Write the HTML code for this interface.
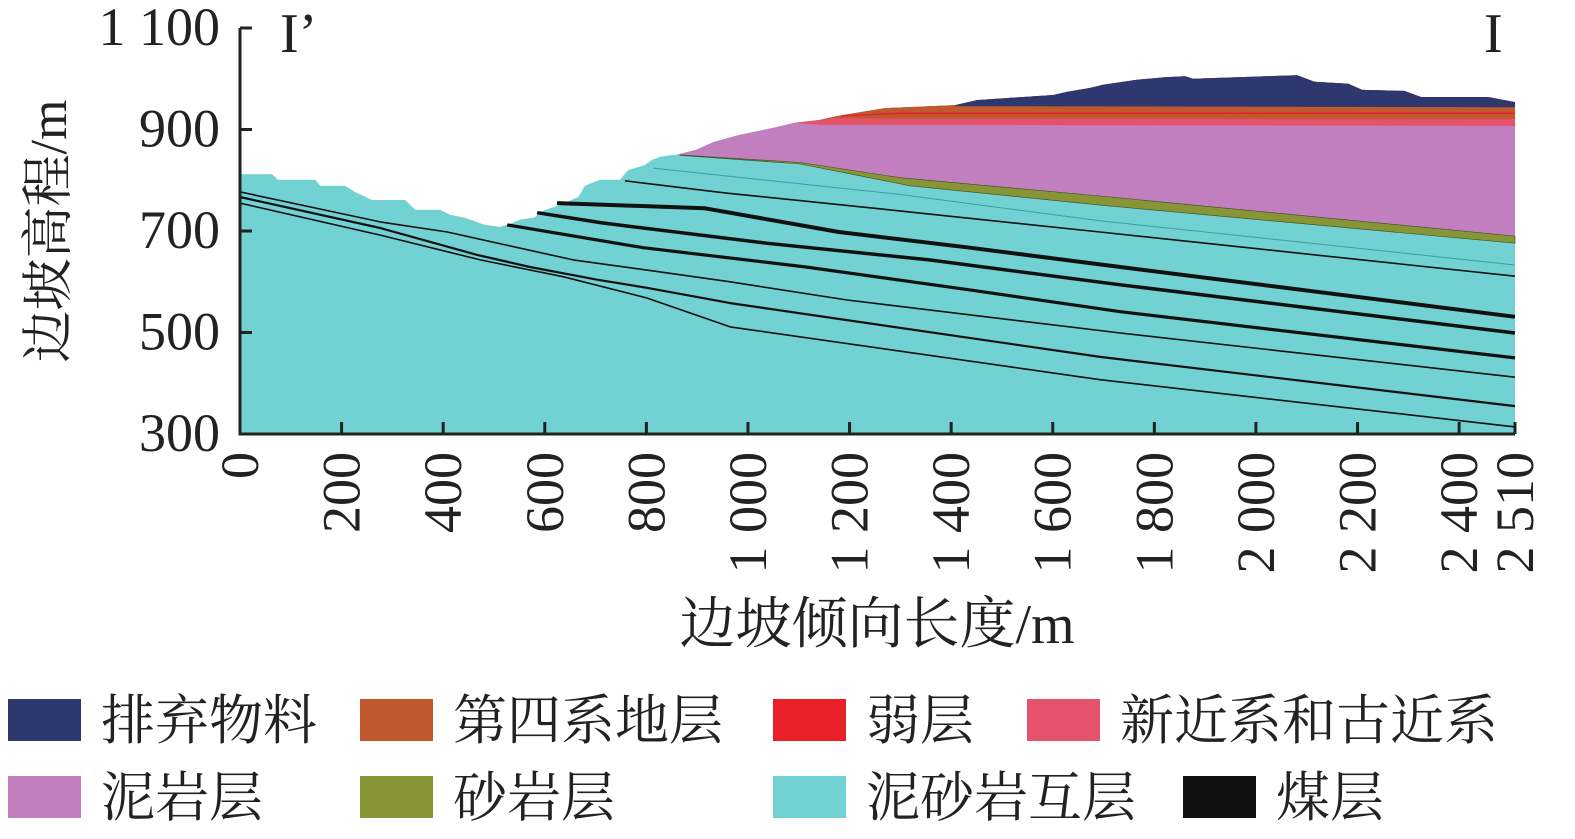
<!DOCTYPE html>
<html><head><meta charset="utf-8">
<style>
html,body{margin:0;padding:0;background:#fff;}
body{width:1575px;height:839px;overflow:hidden;position:relative;font-family:"Liberation Serif","Noto Serif CJK SC",serif;}
svg{position:absolute;left:0;top:0;}
</style></head>
<body>
<svg id="chart" width="1575" height="839" viewBox="0 0 1575 839"></svg>
<script>
// ---- data (distance m, elevation m) ----
const xTicks = [0,200,400,600,800,1000,1200,1400,1600,1800,2000,2200,2400,2510];
const xTickLabels = ["0","200","400","600","800","1 000","1 200","1 400","1 600","1 800","2 000","2 200","2 400","2 510"];
const yTicks = [1100,900,700,500,300];
const yTickLabels = ["1 100","900","700","500","300"];
const groundSurface = [[0,812],[63,812],[75,801],[148,801],[158,789],[207,789],[226,777],[260,761],[325,761],[345,742],[394,742],[413,732],[443,726],[482,712],[512,708],[532,714],[551,722],[581,727],[591,738],[610,745],[630,751],[666,767],[679,789],[709,801],[748,801],[764,820],[797,830],[811,840],[827,846],[851,850],[858,850],[898,860],[931,875],[981,889],[1048,903],[1091,913],[1142,919],[1179,927],[1268,942],[1408,948],[1451,958],[1601,968],[1628,974],[1674,982],[1699,988],[1766,998],[1821,1003],[1861,1005],[1876,1000],[2081,1007],[2115,994],[2182,990],[2209,978],[2292,976],[2325,964],[2457,964],[2510,954]];
const navyBase = [[2510,944],[1408,946]];
const orangeBase = [[2510,921],[1179,922],[1142,919]];
const pinkBase = [[2510,907],[1142,909],[1091,913]];
const weakLine = [[1185,927],[1300,932],[2510,932]];
const oliveTop = [[866,850],[1103,835],[1300,805],[1693,769],[2510,690]];
const oliveBase = [[866,849],[1103,832],[1319,789],[1693,751],[2510,676]];
const seamL1 = [[813,824],[1300,772],[1693,720],[2510,633]];
const seamL2 = [[758,799],[955,775],[1276,742],[1693,698],[2510,611]];
const seamL3 = [[624,755],[914,745],[1179,698],[1437,667],[1733,629],[2510,531]];
const seamL4 = [[585,736],[713,716],[1036,676],[1357,643],[1733,594],[2510,499]];
const seamL5 = [[526,712],[794,667],[1114,629],[1437,584],[1733,541],[2510,450]];
const seamL6 = [[0,777],[276,718],[408,698],[656,643],[801,623],[965,600],[1195,564],[1733,499],[2510,412]];
const seamL7 = [[0,767],[276,706],[467,653],[571,629],[703,604],[801,588],[965,558],[1693,452],[2510,355]];
const seamL8 = [[0,755],[276,692],[473,643],[636,610],[801,568],[965,511],[1693,407],[2510,314]];

const X0=240,X1=1515,Y0=434,Y1=28;
const sx = m => X0 + (m/2510)*(X1-X0);
const sy = e => Y0 - (e-300)/800*(Y0-Y1);
const NS="http://www.w3.org/2000/svg";
const svg=document.getElementById('chart');
function mk(tag,attrs,parent){const el=document.createElementNS(NS,tag);for(const k in attrs)el.setAttribute(k,attrs[k]);(parent||svg).appendChild(el);return el;}
const pts = arr => arr.map(p=>sx(p[0]).toFixed(1)+','+sy(p[1]).toFixed(1)).join(' ');

let el;
el=mk('polygon',{points:pts(groundSurface)+' '+sx(2510)+','+sy(300)+' '+sx(0)+','+sy(300),fill:'#72d1d2'});


const upper = groundSurface.filter(p=>p[0]>=858);
el=mk('polygon',{points:pts(upper)+' '+pts(oliveTop.slice().reverse()),fill:'#c27fc0'});


el=mk('polygon',{points:pts(oliveTop)+' '+pts(oliveBase.slice().reverse()),fill:'#879536',stroke:'#3a4a20','stroke-width':0.6});


const up1091 = groundSurface.filter(p=>p[0]>=1091);
el=mk('polygon',{points:pts(up1091)+' '+pts(pinkBase),fill:'#e4536b'});


const up1142 = groundSurface.filter(p=>p[0]>=1142);
el=mk('polygon',{points:pts(up1142)+' '+pts(orangeBase),fill:'#c05a2e'});


el=mk('polyline',{points:pts(weakLine),fill:'none',stroke:'#e8202a','stroke-width':1.5});


const up1408 = groundSurface.filter(p=>p[0]>=1408);
el=mk('polygon',{points:pts(up1408)+' '+pts(navyBase),fill:'#2e376e'});



const seams=[[seamL1,'#3aa0a2',1],[seamL2,'#111',1.6],[seamL3,'#111',4],[seamL4,'#111',3.5],[seamL5,'#111',3.2],[seamL6,'#111',1.6],[seamL7,'#111',2.2],[seamL8,'#111',1.6]];
seams.forEach((s,i)=>{
  el=mk('polyline',{points:pts(s[0]),fill:'none',stroke:s[1],'stroke-width':s[2],'stroke-linejoin':'round'});
  
  
});

el=mk('path',{d:`M${X0},${Y1} V${Y0} H${X1}`,fill:'none',stroke:'#222','stroke-width':3});


yTicks.forEach((v,i)=>{
  el=mk('line',{x1:X0,x2:X0+12,y1:sy(v),y2:sy(v),stroke:'#222','stroke-width':3});
  
  
  el=mk('text',{x:220,y:sy(v)+17,'text-anchor':'end','font-size':54,fill:'#222'});
  el.textContent=yTickLabels[i];
  
  
});
xTicks.forEach((v,i)=>{
  el=mk('line',{x1:sx(v),x2:sx(v),y1:Y0,y2:Y0-12,stroke:'#222','stroke-width':3});
  
  
  el=mk('text',{x:0,y:0,'text-anchor':'end','font-size':54,fill:'#222',transform:`translate(${sx(v)+18},452) rotate(-90)`});
  el.textContent=xTickLabels[i];
  
  
});
el=mk('text',{x:0,y:0,'text-anchor':'middle','font-size':52,fill:'#222',transform:'translate(66,231) rotate(-90)'});
el.textContent='边坡高程/m';


el=mk('text',{x:877,y:643,'text-anchor':'middle','font-size':56,fill:'#222'});
el.textContent='边坡倾向长度/m';


el=mk('text',{x:280,y:52,'font-size':56,fill:'#222'});
el.textContent='I’';


el=mk('text',{x:1484,y:52,'font-size':56,fill:'#222'});
el.textContent='I';



const legendNames=['排弃物料','第四系地层','弱层','新近系和古近系','泥岩层','砂岩层','泥砂岩互层','煤层'];
const legendColors=['#2e376e','#c05a2e','#e8202a','#e4536b','#c27fc0','#879536','#72d1d2','#111'];
const legendX=[8,360,773,1027,8,360,773,1183];
const legendY=[720,720,720,720,797,797,797,797];
legendNames.forEach((n,i)=>{
  el=mk('rect',{x:legendX[i],y:legendY[i]-21,width:73,height:42,fill:legendColors[i]});
  
  
  el=mk('text',{x:legendX[i]+93,y:legendY[i]+19,'font-size':54,fill:'#222'});
  el.textContent=n;
  
  
});
</script>
</body></html>
